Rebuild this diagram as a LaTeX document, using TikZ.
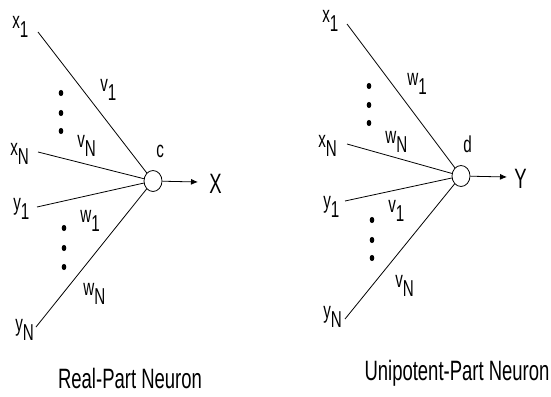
\documentclass[tikz,border=0pt]{standalone}
\usepackage{fontspec}
\setmainfont{Liberation Sans}[FakeStretch=0.66]
\usepackage{tikz}
\usetikzlibrary{arrows.meta,shapes.geometric}
\newcommand{\subidx}[1]{\raisebox{-9pt}{#1}}

\begin{document}
\begin{tikzpicture}[x=1pt, y=-1pt, >={Latex[length=7pt,width=6pt]}, line width=0.8pt]
\tikzset{soma/.style={draw, ellipse, minimum width=18pt, minimum height=21pt, inner sep=0pt}, lab/.style={inner sep=0pt, anchor=base west, font=\fontsize{23}{25}\selectfont}, outlab/.style={inner sep=0pt, anchor=base west, font=\fontsize{28}{30}\selectfont}, caption/.style={inner sep=0pt, anchor=base, font=\fontsize{28}{30}\selectfont}}
\useasboundingbox (0,0) rectangle (551,396);
% real-part neuron
\node[soma] (c) at (153,181) {};
\coordinate (a1) at (38,32); \coordinate (aN) at (38,152); \coordinate (b1) at (37,207); \coordinate (bN) at (36,327); \coordinate (outX) at (198,182);
\node[lab] (lx1) at (12,29) {x\subidx{1}};
\node[lab] (lxN) at (10,155) {x\subidx{N}};
\node[lab] (ly1) at (13,210) {y\subidx{1}};
\node[lab] (lyN) at (15,331) {y\subidx{N}};
\node[lab] (lv1) at (100,92) {v\subidx{1}};
\node[lab] (lvN) at (77,147) {v\subidx{N}};
\node[lab] (lw1) at (80,222) {w\subidx{1}};
\node[lab] (lwN) at (83,295) {w\subidx{N}};
\node[lab] (lc) at (156,157) {c};
\node[outlab] (lX) at (209,193) {X};
\node[caption] (capR) at (130,388) {Real-Part Neuron};
\draw (a1)--(c); \draw (aN)--(c); \draw (b1)--(c); \draw (bN)--(c); \draw[->] (c)--(outX);
% unipotent-part neuron
\node[soma] (d) at (461,176) {};
\coordinate (p1) at (347,24); \coordinate (pN) at (347,144); \coordinate (q1) at (345,201); \coordinate (qN) at (345,319); \coordinate (outY) at (507,177);
\node[lab] (ux1) at (322,23) {x\subidx{1}};
\node[lab] (uxN) at (318,147) {x\subidx{N}};
\node[lab] (uy1) at (323,208) {y\subidx{1}};
\node[lab] (uyN) at (323,318) {y\subidx{N}};
\node[lab] (uw1) at (407,85) {w\subidx{1}};
\node[lab] (uwN) at (385,143) {w\subidx{N}};
\node[lab] (uv1) at (388,212) {v\subidx{1}};
\node[lab] (uvN) at (395,287) {v\subidx{N}};
\node[lab] (ld) at (463,152) {d};
\node[outlab] (lY) at (514,188) {Y};
\node[caption] (capU) at (457,380) {Unipotent-Part Neuron};
\draw (p1)--(d); \draw (pN)--(d); \draw (q1)--(d); \draw (qN)--(d); \draw[->] (d)--(outY);
% dots
\foreach \px/\py in {61/93,61/113,61/131,64/228,64/248,64/267,369/86,369/105,369/123,372/220,372/240,372/258}
  \fill (\px,\py) ellipse [x radius=2.3pt, y radius=3.1pt];
\end{tikzpicture}
\end{document}
